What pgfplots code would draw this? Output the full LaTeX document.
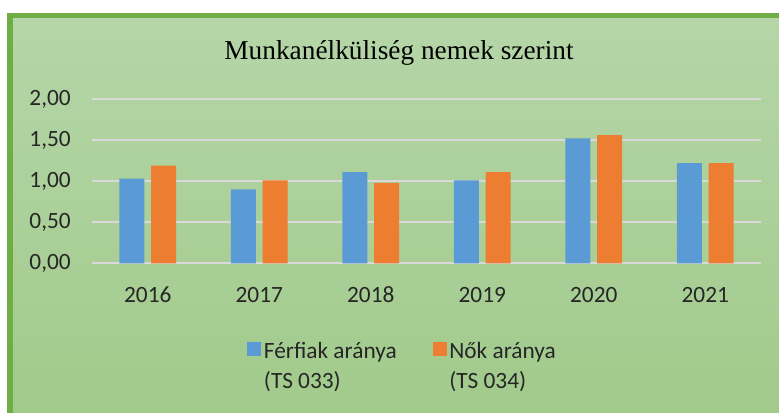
\documentclass[border=0pt]{standalone}
\usepackage{pgfplots}
\pgfplotsset{compat=1.18}
\usepackage{fontspec}
\setmainfont{Carlito}
\newfontfamily\titlefont{Liberation Serif}

\definecolor{bgtop}{RGB}{181,214,168}
\definecolor{bgbot}{RGB}{161,202,139}
\definecolor{frame}{RGB}{112,173,71}
\definecolor{barblue}{RGB}{91,155,213}
\definecolor{barorange}{RGB}{237,125,49}
\definecolor{gridgray}{RGB}{217,217,217}
\definecolor{txt}{RGB}{38,38,38}

\pgfplotsset{
  sqlegend/.style={legend image code/.code={\fill[##1] (0pt,7.55pt) rectangle (10.5pt,18.05pt);}}
}

\begin{document}
\begin{tikzpicture}
% picture is 779 x 413 px, 1 px = 0.75pt
\useasboundingbox (0,0) rectangle (584.25pt,-309.75pt);
\fill[white] (0,0) rectangle (584.25pt,-309.75pt);
\shade[top color=bgtop, bottom color=bgbot] (7.5pt,-11.6pt) rectangle (592pt,-311.5pt);
\draw[frame, line width=4pt] (7.5pt,-11.6pt) rectangle (592pt,-311.5pt);
\node[anchor=base, text=black, font=\titlefont\fontsize{20.5}{24}\selectfont] at (299.25pt,-45pt) {Munkanélküliség nemek szerint};

\begin{axis}[
  at={(69pt,-197.5pt)}, anchor=south west,
  scale only axis, width=501.75pt, height=123.2pt,
  ybar=5pt, bar width=18.75pt,
  xmin=-0.5, xmax=5.5, ymin=0, ymax=2,
  xtick={0,1,2,3,4,5},
  xticklabels={2016,2017,2018,2019,2020,2021},
  ytick={0,0.5,1,1.5,2},
  yticklabel={\pgfmathprintnumber[fixed,fixed zerofill,precision=2,use comma]{\tick}},
  /pgf/number format/assume math mode=true,
  axis line style={draw=none},
  tick style={draw=none},
  major tick length=0pt,
  ymajorgrids,
  grid style={gridgray, line width=1.5pt},
  ticklabel style={font=\fontsize{17.5}{21}\selectfont, text=txt, inner sep=0pt},
  yticklabel style={anchor=east, xshift=-15.75pt},
  xticklabel style={anchor=base, yshift=-29.25pt},
  legend style={at={(0.2317,-0.461)}, anchor=north west, draw=none, fill=none,
    inner sep=0pt, font=\fontsize{17.5}{22.5}\selectfont, text=txt,
    legend columns=2, cells={align=left, anchor=west},
    /tikz/every even column/.append style={column sep=25pt}},
]
\addplot[fill=barblue, draw=none, sqlegend] coordinates {
  (0,1.03) (1,0.90) (2,1.11) (3,1.01) (4,1.52) (5,1.22)
};
\addlegendentry{Férfiak aránya\\(TS 033)}
\addplot[fill=barorange, draw=none, sqlegend] coordinates {
  (0,1.19) (1,1.01) (2,0.98) (3,1.11) (4,1.56) (5,1.22)
};
\addlegendentry{Nők aránya\\(TS 034)}
\end{axis}
\end{tikzpicture}
\end{document}
